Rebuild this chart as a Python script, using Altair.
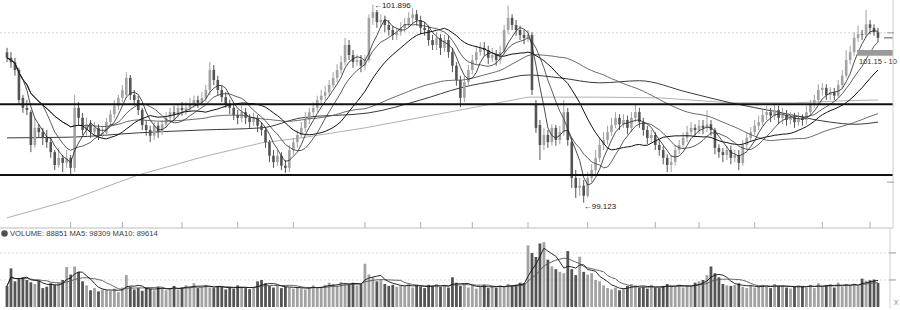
import altair as alt
import pandas as pd

OPEN = [
    101.23, 101.15, 101.09, 100.98, 100.59, 100.45, 100.39, 99.93, 100.17, 100.11,
    100.03, 99.97, 99.83, 99.65, 99.75, 99.68, 99.75, 99.61, 100.45, 100.31,
    100.14, 100.22, 100.11, 100.17, 100.07, 100.10, 100.25, 100.36, 100.48, 100.59,
    100.63, 100.87, 100.63, 100.56, 100.42, 100.21, 100.14, 100.06, 100.20, 100.11,
    100.22, 100.31, 100.39, 100.35, 100.45, 100.42, 100.45, 100.50, 100.56, 100.52,
    100.59, 100.70, 100.98, 100.84, 100.70, 100.60, 100.50, 100.45, 100.35, 100.31,
    100.39, 100.31, 100.25, 100.31, 100.20, 100.14, 99.97, 99.78, 99.69, 99.78,
    99.64, 99.61, 99.86, 99.97, 100.07, 100.17, 100.28, 100.39, 100.45, 100.56,
    100.62, 100.67, 100.77, 100.87, 100.98, 101.09, 101.33, 101.19, 101.09, 101.12,
    101.04, 101.12, 101.71, 101.79, 101.65, 101.68, 101.61, 101.54, 101.47, 101.51,
    101.57, 101.62, 101.71, 101.76, 101.68, 101.57, 101.54, 101.40, 101.33, 101.43,
    101.29, 101.40, 101.23, 101.04, 100.84, 100.59, 100.81, 100.98, 101.12, 101.23,
    101.29, 101.26, 101.15, 101.19, 101.12, 101.23, 101.54, 101.71, 101.61, 101.54,
    101.47, 101.43, 101.47, 100.50, 100.21, 99.93, 100.07, 99.97, 100.17, 100.00,
    100.11, 100.39, 99.97, 99.47, 99.33, 99.36, 99.22, 99.47, 99.58, 99.75,
    99.93, 100.00, 100.11, 100.21, 100.31, 100.22, 100.28, 100.17, 100.31, 100.39,
    100.25, 100.14, 100.03, 100.07, 99.93, 99.86, 99.75, 99.65, 99.69, 99.86,
    99.93, 100.03, 100.11, 100.17, 100.14, 100.20, 100.17, 100.22, 100.14, 99.89,
    99.83, 99.79, 99.86, 99.75, 99.79, 99.68, 99.93, 100.03, 100.11, 100.20,
    100.25, 100.35, 100.39, 100.34, 100.42, 100.31, 100.35, 100.28, 100.32, 100.25,
    100.31, 100.28, 100.39, 100.50, 100.56, 100.70, 100.73, 100.63, 100.67, 100.62,
    100.77, 100.90, 101.12, 101.23, 101.43, 101.48, 101.47, 101.62, 101.57, 101.51,
]
CLOSE = [
    101.15, 101.09, 100.98, 100.56, 100.45, 100.42, 99.93, 100.17, 100.11, 100.03,
    99.97, 99.83, 99.65, 99.75, 99.68, 99.75, 99.61, 100.45, 100.31, 100.14,
    100.22, 100.11, 100.17, 100.07, 100.10, 100.25, 100.36, 100.48, 100.59, 100.70,
    100.87, 100.63, 100.56, 100.42, 100.21, 100.14, 100.06, 100.20, 100.11, 100.22,
    100.31, 100.39, 100.35, 100.45, 100.42, 100.45, 100.50, 100.56, 100.52, 100.59,
    100.70, 100.98, 100.84, 100.70, 100.60, 100.50, 100.45, 100.35, 100.31, 100.39,
    100.31, 100.25, 100.31, 100.20, 100.14, 99.97, 99.78, 99.69, 99.78, 99.64,
    99.61, 99.86, 99.97, 100.07, 100.17, 100.28, 100.39, 100.45, 100.56, 100.62,
    100.67, 100.77, 100.87, 100.98, 101.09, 101.33, 101.19, 101.09, 101.12, 101.04,
    101.12, 101.71, 101.79, 101.65, 101.68, 101.61, 101.54, 101.47, 101.51, 101.57,
    101.62, 101.71, 101.76, 101.68, 101.57, 101.54, 101.40, 101.33, 101.43, 101.29,
    101.40, 101.23, 101.04, 100.84, 100.59, 100.81, 100.98, 101.12, 101.23, 101.29,
    101.26, 101.15, 101.19, 101.12, 101.23, 101.54, 101.71, 101.61, 101.54, 101.47,
    101.43, 101.47, 100.70, 100.17, 99.93, 100.07, 99.97, 100.17, 100.00, 100.11,
    100.39, 100.00, 99.47, 99.33, 99.36, 99.22, 99.47, 99.58, 99.75, 99.93,
    100.00, 100.11, 100.21, 100.31, 100.22, 100.28, 100.17, 100.31, 100.39, 100.25,
    100.14, 100.03, 100.07, 99.93, 99.86, 99.75, 99.65, 99.69, 99.86, 99.93,
    100.03, 100.11, 100.17, 100.14, 100.20, 100.17, 100.22, 100.14, 99.89, 99.83,
    99.79, 99.86, 99.75, 99.79, 99.68, 99.93, 100.03, 100.11, 100.20, 100.25,
    100.35, 100.39, 100.34, 100.42, 100.31, 100.35, 100.28, 100.32, 100.25, 100.31,
    100.28, 100.39, 100.50, 100.56, 100.70, 100.73, 100.63, 100.67, 100.62, 100.77,
    100.90, 101.12, 101.23, 101.43, 101.48, 101.47, 101.62, 101.57, 101.51, 101.43,
]
HIGH = [
    101.29, 101.23, 101.15, 101.01, 100.63, 100.56, 100.42, 100.31, 100.22, 100.17,
    100.14, 100.03, 99.86, 99.89, 99.79, 99.86, 99.79, 100.63, 100.53, 100.38,
    100.31, 100.28, 100.25, 100.22, 100.20, 100.31, 100.42, 100.56, 100.63, 100.77,
    100.95, 100.91, 100.70, 100.62, 100.45, 100.28, 100.20, 100.25, 100.25, 100.28,
    100.39, 100.45, 100.48, 100.50, 100.53, 100.53, 100.59, 100.62, 100.62, 100.67,
    100.77, 101.09, 101.05, 100.90, 100.76, 100.67, 100.56, 100.50, 100.42, 100.48,
    100.45, 100.36, 100.38, 100.35, 100.25, 100.17, 100.00, 99.86, 99.86, 99.83,
    99.72, 99.93, 100.03, 100.14, 100.25, 100.39, 100.45, 100.53, 100.62, 100.70,
    100.76, 100.84, 100.95, 101.06, 101.18, 101.43, 101.40, 101.26, 101.20, 101.19,
    101.19, 101.76, 101.896, 101.82, 101.76, 101.74, 101.68, 101.60, 101.57, 101.65,
    101.71, 101.79, 101.85, 101.82, 101.74, 101.65, 101.60, 101.47, 101.51, 101.48,
    101.47, 101.46, 101.29, 101.09, 100.90, 100.90, 101.05, 101.19, 101.32, 101.37,
    101.37, 101.32, 101.29, 101.26, 101.32, 101.61, 101.88, 101.76, 101.68, 101.60,
    101.54, 101.54, 101.51, 100.56, 100.28, 100.17, 100.14, 100.22, 100.21, 100.20,
    100.56, 100.45, 100.03, 99.58, 99.47, 99.44, 99.55, 99.66, 99.86, 100.03,
    100.11, 100.20, 100.31, 100.39, 100.36, 100.36, 100.34, 100.39, 100.49, 100.45,
    100.31, 100.20, 100.14, 100.11, 100.00, 99.92, 99.80, 99.78, 99.93, 100.00,
    100.11, 100.20, 100.25, 100.22, 100.28, 100.28, 100.42, 100.28, 100.17, 99.94,
    99.89, 99.92, 99.92, 99.86, 99.86, 100.00, 100.11, 100.18, 100.28, 100.34,
    100.42, 100.48, 100.45, 100.50, 100.48, 100.45, 100.42, 100.39, 100.38, 100.39,
    100.36, 100.48, 100.56, 100.63, 100.78, 100.80, 100.78, 100.74, 100.73, 100.84,
    100.98, 101.26, 101.32, 101.51, 101.60, 101.54, 101.82, 101.68, 101.62, 101.57,
]
LOW = [
    101.09, 101.01, 100.90, 100.50, 100.38, 100.35, 99.83, 99.89, 100.03, 99.93,
    99.89, 99.75, 99.58, 99.61, 99.55, 99.61, 99.51, 99.55, 100.21, 100.07,
    100.06, 100.03, 100.07, 100.00, 100.03, 100.06, 100.20, 100.31, 100.42, 100.53,
    100.59, 100.56, 100.48, 100.35, 100.14, 100.06, 99.97, 100.00, 100.03, 100.07,
    100.17, 100.25, 100.28, 100.31, 100.34, 100.35, 100.39, 100.45, 100.45, 100.48,
    100.53, 100.63, 100.77, 100.62, 100.53, 100.45, 100.36, 100.28, 100.22, 100.25,
    100.22, 100.17, 100.20, 100.11, 100.06, 99.89, 99.69, 99.61, 99.64, 99.58,
    99.54, 99.55, 99.79, 99.89, 100.03, 100.11, 100.22, 100.34, 100.39, 100.50,
    100.56, 100.62, 100.73, 100.81, 100.92, 101.04, 101.12, 101.01, 101.04, 100.95,
    100.98, 101.09, 101.61, 101.57, 101.57, 101.51, 101.46, 101.40, 101.40, 101.46,
    101.51, 101.57, 101.62, 101.60, 101.48, 101.46, 101.32, 101.26, 101.26, 101.19,
    101.23, 101.15, 100.95, 100.76, 100.46, 100.53, 100.77, 100.92, 101.06, 101.18,
    101.18, 101.06, 101.09, 101.04, 101.06, 101.19, 101.48, 101.54, 101.46, 101.40,
    101.34, 101.37, 100.63, 100.10, 99.72, 99.86, 99.89, 99.92, 99.92, 99.94,
    100.06, 99.92, 99.33, 99.19, 99.22, 99.123, 99.19, 99.41, 99.52, 99.69,
    99.86, 99.94, 100.06, 100.17, 100.14, 100.17, 100.08, 100.11, 100.25, 100.17,
    100.06, 99.94, 99.97, 99.86, 99.78, 99.66, 99.55, 99.55, 99.64, 99.80,
    99.89, 99.97, 100.07, 100.06, 100.08, 100.08, 100.11, 100.06, 99.80, 99.75,
    99.69, 99.72, 99.66, 99.69, 99.58, 99.64, 99.86, 99.97, 100.07, 100.14,
    100.20, 100.28, 100.25, 100.28, 100.22, 100.22, 100.20, 100.22, 100.17, 100.20,
    100.20, 100.22, 100.34, 100.45, 100.50, 100.62, 100.56, 100.56, 100.56, 100.59,
    100.73, 100.87, 101.06, 101.18, 101.37, 101.40, 101.43, 101.48, 101.46, 101.37,
]
VOLUME = [
    78000, 143000, 95000, 105000, 110000, 100000, 92000, 85000, 98000, 70000,
    75000, 88000, 82000, 90000, 100000, 148000, 120000, 150000, 130000, 95000,
    80000, 62000, 70000, 58000, 65000, 62000, 60000, 68000, 55000, 72000,
    118000, 75000, 65000, 70000, 60000, 72000, 68000, 62000, 75000, 70000,
    62000, 70000, 78000, 65000, 72000, 80000, 75000, 88000, 70000, 74000,
    82000, 72000, 70000, 78000, 75000, 65000, 72000, 68000, 80000, 75000,
    70000, 66000, 72000, 95000, 100000, 88000, 78000, 72000, 80000, 70000,
    75000, 72000, 68000, 74000, 70000, 65000, 72000, 80000, 70000, 75000,
    82000, 90000, 85000, 78000, 92000, 88000, 85000, 90000, 80000, 85000,
    160000, 120000, 110000, 95000, 100000, 85000, 78000, 82000, 75000, 80000,
    78000, 85000, 72000, 80000, 76000, 70000, 82000, 78000, 85000, 74000,
    80000, 72000, 110000, 90000, 78000, 84000, 72000, 80000, 68000, 75000,
    82000, 70000, 78000, 72000, 80000, 76000, 85000, 80000, 82000, 90000,
    88000, 228000, 200000, 185000, 235000, 240000, 175000, 150000, 140000, 130000,
    125000, 207000, 140000, 118000, 186000, 130000, 120000, 125000, 100000, 95000,
    80000, 70000, 65000, 72000, 62000, 70000, 78000, 85000, 80000, 72000,
    75000, 68000, 82000, 72000, 70000, 78000, 85000, 80000, 76000, 82000,
    72000, 80000, 78000, 90000, 95000, 100000, 118000, 150000, 125000, 110000,
    85000, 80000, 78000, 82000, 88000, 75000, 70000, 80000, 72000, 78000,
    82000, 75000, 70000, 85000, 78000, 80000, 72000, 68000, 75000, 80000,
    78000, 72000, 82000, 70000, 88000, 75000, 80000, 85000, 72000, 90000,
    76000, 85000, 80000, 86000, 77589, 105000, 97000, 99000, 101700, 88851,
]

MA120_IDX = [0, 16, 33, 49, 64, 74, 91, 104, 114, 124, 131, 139, 149, 159, 171, 182, 194, 207, 213, 219]
MA120_VAL = [100.03, 100.04, 100.10, 100.14, 100.17, 100.31, 100.38, 100.56, 100.73, 100.84,
             100.91, 100.87, 100.80, 100.83, 100.67, 100.52, 100.39, 100.25, 100.22, 100.25]
MA250_IDX = [0, 16, 33, 49, 64, 74, 90, 114, 131, 139, 149, 164, 182, 198, 211, 219]
MA250_VAL = [98.91, 99.16, 99.51, 99.76, 99.96, 100.03, 100.17, 100.42, 100.60, 100.60,
             100.60, 100.59, 100.52, 100.52, 100.55, 100.56]

SUPPORT = [100.50, 99.51]
GRID_PRICE = [101.50]
TICK_IDX = [16, 29, 44, 58, 72, 90, 104, 117, 131, 146, 163, 174, 188, 205, 217]
VOL_GRID = [100000, 200000]
BAND = [101.18, 101.26]
VOL_LABEL = "VOLUME: 88851  MA5: 98309  MA10: 89614"

N = len(CLOSE)
df = pd.DataFrame({"i": list(range(N)), "open": OPEN, "high": HIGH, "low": LOW,
                   "close": CLOSE, "volume": VOLUME})
df["dir"] = ["up" if c >= o else "down" for o, c in zip(OPEN, CLOSE)]

XS = alt.Scale(domain=[0, N - 1], range=[2, 883], nice=False, zero=False)
PS = alt.Scale(domain=[98.768, 101.96], range=[228, 0], nice=False, zero=False)
VS = alt.Scale(domain=[0, 247900], range=[307, 240], nice=False, zero=True)
CS = alt.Scale(domain=["up", "down"], range=["#a2a2a2", "#545454"])

X = alt.X("i:Q", scale=XS, axis=None)
COLOR = alt.Color("dir:N", scale=CS, legend=None)
FONT = "Liberation Sans"
one = pd.DataFrame({"k": [0]})


def vrule(x, y, y2, color, width=1):
    return alt.Chart(one).mark_rule(color=color, strokeWidth=width).encode(
        x=alt.value(x), y=alt.value(y), y2=alt.value(y2))


def hrule(x, x2, y, color, width=1):
    return alt.Chart(one).mark_rule(color=color, strokeWidth=width).encode(
        x=alt.value(x), x2=alt.value(x2), y=alt.value(y))


def ma_line(field, n, scale, color, width):
    return alt.Chart(df).transform_window(
        ma=f"mean({field})", frame=[-(n - 1), 0], sort=[alt.SortField("i")]
    ).mark_line(color=color, strokeWidth=width).encode(
        x=X, y=alt.Y("ma:Q", scale=scale, axis=None))


layers = []

# gridline (dashed) in price panel
layers.append(alt.Chart(pd.DataFrame({"p": GRID_PRICE})).mark_rule(
    color="#d4d4d4", strokeDash=[2, 2]).encode(
    x=alt.value(0), x2=alt.value(893), y=alt.Y("p:Q", scale=PS, axis=None)))
# volume gridlines
layers.append(alt.Chart(pd.DataFrame({"v": VOL_GRID})).mark_rule(
    color="#dddddd", strokeDash=[2, 2]).encode(
    x=alt.value(0), x2=alt.value(890), y=alt.Y("v:Q", scale=VS, axis=None)))

# long moving averages
layers.append(alt.Chart(pd.DataFrame({"i": MA250_IDX, "v": MA250_VAL})).mark_line(
    color="#b0b0b0", strokeWidth=1).encode(x=X, y=alt.Y("v:Q", scale=PS, axis=None)))
layers.append(alt.Chart(pd.DataFrame({"i": MA120_IDX, "v": MA120_VAL})).mark_line(
    color="#3a3a3a", strokeWidth=1, interpolate="monotone").encode(
    x=X, y=alt.Y("v:Q", scale=PS, axis=None)))

# candles
layers.append(alt.Chart(df).mark_rule(strokeWidth=1).encode(
    x=X, y=alt.Y("low:Q", scale=PS, axis=None), y2="high:Q", color=COLOR))
layers.append(alt.Chart(df).mark_bar(size=2.6).encode(
    x=X, y=alt.Y("open:Q", scale=PS, axis=None), y2="close:Q", color=COLOR))

# price moving averages
layers.append(ma_line("close", 60, PS, "#5a5a5a", 0.9))
layers.append(ma_line("close", 20, PS, "#111111", 1.0))
layers.append(ma_line("close", 10, PS, "#333333", 0.8))
layers.append(ma_line("close", 5, PS, "#222222", 0.8))

# support / resistance lines
layers.append(alt.Chart(pd.DataFrame({"p": SUPPORT})).mark_rule(
    color="#111111", strokeWidth=2).encode(
    x=alt.value(0), x2=alt.value(893), y=alt.Y("p:Q", scale=PS, axis=None)))

# price band on the right
layers.append(alt.Chart(pd.DataFrame({"lo": [BAND[0]], "hi": [BAND[1]]})).mark_rect(
    color="#9a9a9a").encode(
    x=alt.value(857), x2=alt.value(893),
    y=alt.Y("hi:Q", scale=PS, axis=None), y2="lo:Q"))
layers.append(alt.Chart(one).mark_text(
    text="101.15 - 10", align="left", baseline="middle", fontSize=7.5,
    font=FONT, color="#333333").encode(x=alt.value(859), y=alt.value(62)))

# last price marker
layers.append(alt.Chart(pd.DataFrame({"p": [CLOSE[-1]]})).mark_rule(
    color="#555555", strokeWidth=1).encode(
    x=alt.value(884), x2=alt.value(893), y=alt.Y("p:Q", scale=PS, axis=None)))

# high / low annotations
hi_i = HIGH.index(max(HIGH))
lo_i = LOW.index(min(LOW))
layers.append(alt.Chart(pd.DataFrame({"i": [hi_i], "p": [max(HIGH)], "t": ["\u2190" + f"{max(HIGH):.3f}"]})).mark_text(
    align="left", baseline="middle", dx=1, dy=1, fontSize=8, font=FONT, color="#222222").encode(
    x=X, y=alt.Y("p:Q", scale=PS, axis=None), text="t:N"))
layers.append(alt.Chart(pd.DataFrame({"i": [lo_i], "p": [min(LOW)], "t": ["\u2190" + f"{min(LOW):.3f}"]})).mark_text(
    align="left", baseline="middle", dx=0, dy=4, fontSize=8, font=FONT, color="#222222").encode(
    x=X, y=alt.Y("p:Q", scale=PS, axis=None), text="t:N"))

# price panel frame: bottom axis, ticks, right border
layers.append(hrule(0, 893, 228, "#bdbdbd"))
layers.append(alt.Chart(pd.DataFrame({"i": TICK_IDX})).mark_rule(color="#b0b0b0").encode(
    x=X, y=alt.value(222), y2=alt.value(228)))
layers.append(vrule(893, 0, 228, "#cfcfcf"))
layers.append(alt.Chart(pd.DataFrame({"p": [101.50, 99.41]})).mark_rule(color="#999999").encode(
    x=alt.value(887), x2=alt.value(894), y=alt.Y("p:Q", scale=PS, axis=None)))

# volume bars and their averages
layers.append(alt.Chart(df).mark_bar(size=2.8).encode(
    x=X, y=alt.Y("volume:Q", scale=VS, axis=None), color=COLOR))
layers.append(ma_line("volume", 10, VS, "#555555", 0.9))
layers.append(ma_line("volume", 5, VS, "#111111", 0.9))

# volume panel frame
layers.append(vrule(890, 229, 308, "#cfcfcf"))
layers.append(alt.Chart(pd.DataFrame({"v": VOL_GRID})).mark_rule(color="#999999").encode(
    x=alt.value(889), x2=alt.value(896), y=alt.Y("v:Q", scale=VS, axis=None)))
layers.append(alt.Chart(one).mark_text(
    text="X", align="center", baseline="middle", fontSize=7, font=FONT, color="#888888").encode(
    x=alt.value(896), y=alt.value(303)))

# volume label
layers.append(alt.Chart(one).mark_point(filled=True, size=42, color="#505050", opacity=1).encode(
    x=alt.value(4.5), y=alt.value(233.5)))
layers.append(alt.Chart(one).mark_text(
    text=VOL_LABEL, align="left", baseline="middle", fontSize=7.6, font=FONT,
    color="#3a3a3a").encode(x=alt.value(10), y=alt.value(233.5)))

chart = alt.layer(*layers).resolve_scale(y="independent").properties(
    width=900, height=310, autosize=alt.AutoSizeParams(type="none"), padding=0,
    background="white",
).configure_view(strokeWidth=0)

chart.save("out.html", embed_options={"renderer": "svg", "actions": False})
